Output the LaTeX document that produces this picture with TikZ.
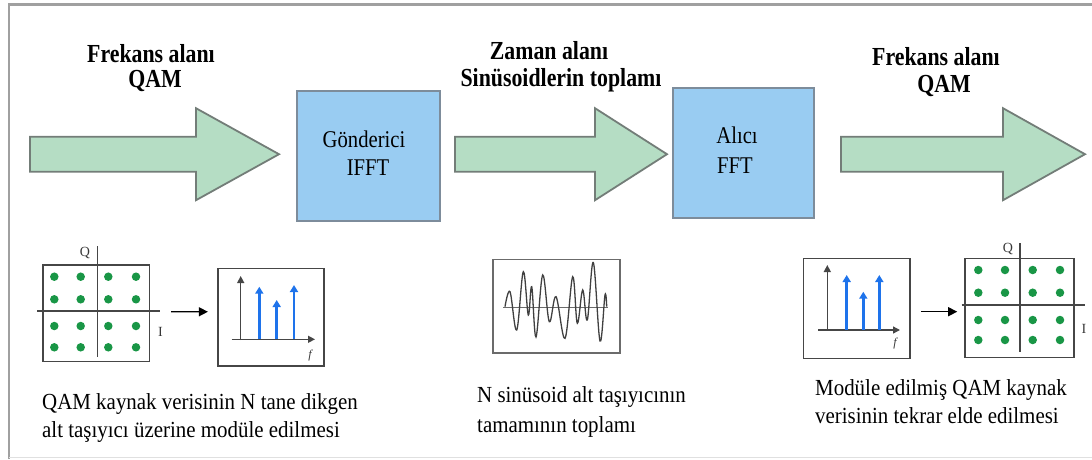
\documentclass[tikz,border=0pt]{standalone}
\usepackage{fontspec}
\setmainfont{Liberation Serif}
\usetikzlibrary{arrows.meta,calc}

\definecolor{arrowfill}{RGB}{181,221,196}
\definecolor{arrowline}{RGB}{115,125,120}
\definecolor{boxfill}{RGB}{153,204,242}
\definecolor{boxline}{RGB}{125,140,155}
\definecolor{framegray}{RGB}{160,160,160}
\definecolor{dotgreen}{RGB}{25,150,70}
\definecolor{specblue}{RGB}{30,115,235}
\definecolor{axisgray}{RGB}{70,70,70}

% broad block arrow from tail centre #1 to tip #2, head length #3
\newcommand{\fatarrow}[3]{%
  \draw[fatshape] let \p1=(#1), \p2=(#2) in
    (\x1,\y1+17.5) -- (\x2-#3,\y1+17.5) -- (\x2-#3,\y1+46) -- (\x2,\y1)
    -- (\x2-#3,\y1-46) -- (\x2-#3,\y1-17.5) -- (\x1,\y1-17.5) -- cycle;}

\begin{document}
\begin{tikzpicture}[x=1pt,y=-1pt,
  fatshape/.style={fill=arrowfill, draw=arrowline, line width=1.8pt, line join=miter},
  block/.style={rectangle, fill=boxfill, draw=boxline, line width=1.5pt, inner sep=0pt},
  title/.style={font=\fontsize{26}{27}\selectfont\bfseries, xscale=0.84, inner sep=0pt, anchor=base},
  blocktext/.style={font=\fontsize{24}{26}\selectfont, xscale=0.86, inner sep=0pt, anchor=base},
  body/.style={font=\fontsize{23}{27}\selectfont, xscale=0.91, inner sep=0pt, anchor=base west},
  plotbox/.style={rectangle, draw=axisgray, line width=1.6pt, inner sep=0pt},
  axis/.style={draw=axisgray, line width=1.4pt},
  axislabel/.style={font=\fontsize{14}{14}\selectfont, inner sep=0pt, text=axisgray!80!black},
  dot/.style={circle, fill=dotgreen, inner sep=0pt, minimum size=8.5pt},
  specarrow/.style={draw=specblue, line width=2.6pt, -{Triangle[length=7pt,width=8pt]}},
  linkarrow/.style={draw=black, line width=1.3pt, -{Triangle[length=9pt,width=9pt]}},
  axisarrow/.style={axis, -{Triangle[length=7pt,width=7pt]}}
]
\useasboundingbox (0,0) rectangle (1092,459);

% outer frame
\draw[framegray, line width=2.5pt] (9,459) -- (9,4.5) -- (1092,4.5);
\draw[black!12, line width=1.5pt] (9,457.5) -- (1092,457.5);

% processing blocks
\node[block, minimum width=143pt, minimum height=130pt] (tx) at (368.5,156) {};
\node[block, minimum width=141pt, minimum height=130pt] (rx) at (743.5,153) {};
\node[blocktext] (txname) at (364,147) {Gönderici};
\node[blocktext] (txop) at (368,175) {IFFT};
\node[blocktext] (rxname) at (737,143) {Alıcı};
\node[blocktext] (rxop) at (735,173) {FFT};

% signal flow arrows
\coordinate (in tail) at (30,154.2);
\coordinate (in tip) at (279,154.2);
\coordinate (mid tail) at (455,154.2);
\coordinate (mid tip) at (667,154.2);
\coordinate (out tail) at (841,154.2);
\coordinate (out tip) at (1085,154.2);
\fatarrow{in tail}{in tip}{83}
\fatarrow{mid tail}{mid tip}{72}
\fatarrow{out tail}{out tip}{82}

% domain titles
\node[title] (t1a) at (151,62) {Frekans alanı};
\node[title] (t1b) at (155,87) {QAM};
\node[title] (t2a) at (549,59) {Zaman alanı};
\node[title] (t2b) at (561,86) {Sinüsoidlerin toplamı};
\node[title] (t3a) at (936,65) {Frekans alanı};
\node[title] (t3b) at (944,92) {QAM};

% transmitter side: constellation
\node[plotbox, minimum width=106.6pt, minimum height=96.7pt] (qam1) at (96,313.3) {};
\draw[axis] (97.3,246) -- (97.3,356.7);
\draw[axis] (37.3,311) -- (160,311);
\node[axislabel] (q1) at (85,253) {Q};
\node[axislabel] (i1) at (160.5,332) {I};
\foreach \xx in {54.3,80.7,108.3,136}
  \foreach \yy in {276.7,299.3,326,347.3}
    \node[dot] at (\xx,\yy) {};

% transmitter side: subcarrier spectrum
\node[plotbox, minimum width=106.3pt, minimum height=97.7pt] (spec1) at (270.85,317.15) {};
\draw[axisarrow] (240.7,340) -- (240.7,276);
\draw[axisarrow] (231.7,339.3) -- (315,339.3);
\node[axislabel, font=\fontsize{12}{12}\selectfont\itshape] (f1) at (310,356) {f};
\draw[specarrow] (259.3,339.3) -- (259.3,286.7);
\draw[specarrow] (276.7,339.3) -- (276.7,300);
\draw[specarrow] (294,339.3) -- (294,285);

\draw[linkarrow, shorten <=21pt, shorten >=9pt] ([yshift=1.5pt]qam1.east) -- ([yshift=5.4pt]spec1.west);

% time-domain sum of sinusoids
\node[plotbox, draw=axisgray!80, minimum width=127.3pt, minimum height=93.4pt] (wave) at (556.35,306) {};
\draw[axisgray!80, line width=1.6pt] (503,307.3) -- (608.3,307.3);
\draw[black!75, line width=1.3pt] plot[smooth, tension=0.6] coordinates {
  (505,306.7) (510,291.7) (516.7,330) (523.3,271.7) (528.3,315) (531.7,286.7)
  (536,337) (542.7,275) (549.3,321.7) (556,296.7) (565,338.3) (572.7,276.7)
  (577.3,323.3) (582.7,290) (587.3,320) (593.3,262.5) (600,341) (605,295)
  (606.7,306.7)};

% receiver side: subcarrier spectrum
\node[plotbox, minimum width=106.7pt, minimum height=100pt] (spec2) at (856.65,308.3) {};
\draw[axisarrow] (827.3,330) -- (827.3,265);
\draw[axisarrow] (818,330) -- (900,330);
\node[axislabel, font=\fontsize{12}{12}\selectfont\itshape] (f2) at (895,344) {f};
\draw[specarrow] (846.7,330) -- (846.7,275);
\draw[specarrow] (863.3,330) -- (863.3,291.7);
\draw[specarrow] (879.3,330) -- (879.3,275);

% receiver side: recovered constellation
\node[plotbox, minimum width=109pt, minimum height=99pt] (qam2) at (1019.5,307.8) {};
\draw[axis] (1020,243) -- (1020,351.7);
\draw[axis] (961.7,305) -- (1085,305);
\node[axislabel] (q2) at (1008,249) {Q};
\node[axislabel] (i2) at (1084,329) {I};
\foreach \xx in {978.3,1005,1032.7,1060}
  \foreach \yy in {270,292.7,320,340}
    \node[dot] at (\xx,\yy) {};

\draw[linkarrow, shorten <=10pt, shorten >=7pt] ([yshift=-3.4pt]spec2.east) -- ([yshift=-3.9pt]qam2.west);

% captions
\node[body] (c1a) at (42,409) {QAM kaynak verisinin N tane dikgen};
\node[body] (c1b) at (42,437) {alt taşıyıcı üzerine modüle edilmesi};
\node[body] (c2a) at (477,402) {N sinüsoid alt taşıyıcının};
\node[body] (c2b) at (477,432) {tamamının toplamı};
\node[body] (c3a) at (815,395) {Modüle edilmiş QAM kaynak};
\node[body] (c3b) at (815,423) {verisinin tekrar elde edilmesi};
\end{tikzpicture}
\end{document}
